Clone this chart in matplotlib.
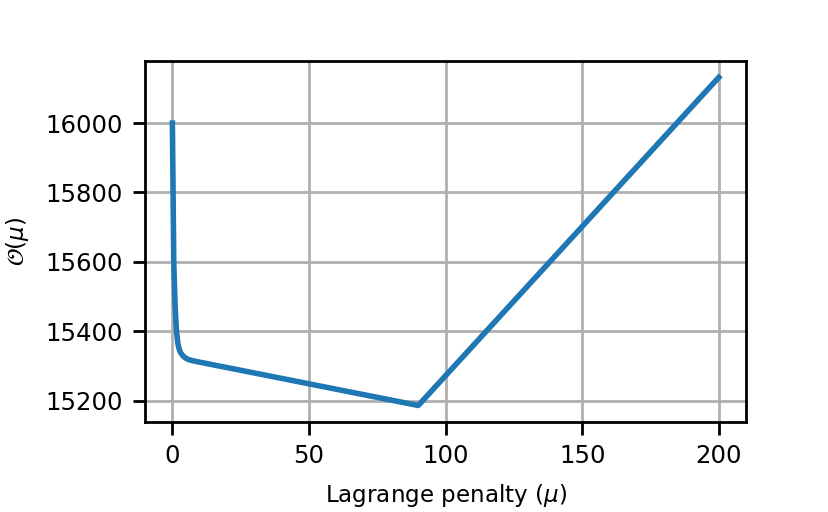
import matplotlib
matplotlib.use("Agg")
import matplotlib.pyplot as plt

# values
mu = [0, 0.5, 1, 1.5, 2, 2.5, 3, 4, 5, 6, 8, 90, 200]
objective = [16000, 15600, 15470, 15400, 15365, 15348, 15338, 15328, 15322, 15318, 15314, 15186, 16132]

plt.rcParams['font.size'] = 8.3
plt.rcParams['xtick.labelsize'] = 8.8
plt.rcParams['ytick.labelsize'] = 8.8
plt.rcParams['axes.linewidth'] = 1.0
plt.rcParams['xtick.major.size'] = 4.5
plt.rcParams['ytick.major.size'] = 4.5
plt.rcParams['xtick.major.width'] = 1.0
plt.rcParams['ytick.major.width'] = 1.0

fig = plt.figure(figsize=(4.145, 2.56), dpi=200)
ax = fig.add_axes([0.175, 0.176, 0.725, 0.705])
ax.plot(mu, objective, color='tab:blue', linewidth=2)
ax.grid(True, linewidth=1.0)
ax.set_xlabel(r'Lagrange penalty ($\mu$)', labelpad=5)
ax.set_ylabel(r'$\mathcal{O}(\mu)$', labelpad=5)
ax.set_xticks([0, 50, 100, 150, 200])
ax.set_yticks([15200, 15400, 15600, 15800, 16000])

fig.savefig('out.png', dpi=200)
